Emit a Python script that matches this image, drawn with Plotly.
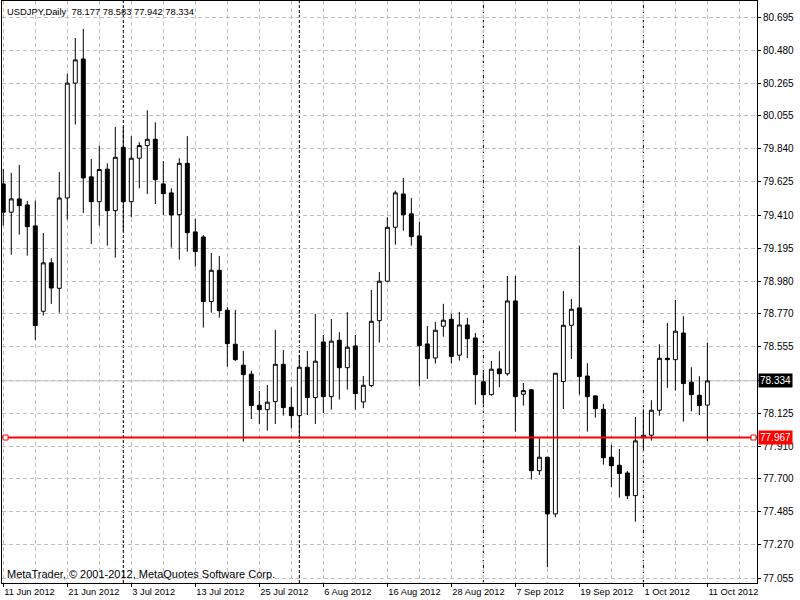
import plotly.graph_objects as go
import pandas as pd

symbol = "USDJPY"
period = "Daily"
dates = pd.bdate_range("2012-06-11", periods=89)
bars = list(range(len(dates)))

opens = [79.612, 79.429, 79.515, 79.476, 79.340, 78.786, 79.100, 78.935, 79.521, 80.266,
         80.423, 79.658, 79.497, 79.708, 79.439, 79.850, 79.497, 79.779, 79.861, 79.902,
         79.612, 79.554, 79.413, 79.746, 79.301, 79.268, 78.849, 79.052, 78.793, 78.572,
         78.436, 78.378, 78.176, 78.148, 78.200, 78.442, 78.163, 78.109, 78.423, 78.226,
         78.587, 78.232, 78.598, 78.420, 78.561, 78.198, 78.304, 78.725, 78.981, 79.331,
         79.547, 79.418, 79.275, 78.574, 78.483, 78.689, 78.734, 78.501, 78.697, 78.613,
         78.328, 78.245, 78.412, 78.381, 78.853, 78.248, 78.276, 77.752, 77.839, 77.471,
         78.330, 78.695, 78.808, 78.366, 78.237, 78.150, 77.839, 77.787, 77.737, 77.590,
         77.966, 77.982, 78.144, 78.481, 78.472, 78.645, 78.326, 78.241, 78.177]
highs = [79.710, 79.684, 79.735, 79.502, 79.504, 79.294, 79.130, 79.690, 80.326, 80.559,
         80.618, 79.774, 79.861, 79.746, 79.982, 79.982, 79.922, 79.883, 80.090, 80.012,
         79.761, 79.584, 79.779, 79.922, 79.385, 79.281, 79.164, 79.145, 78.812, 78.795,
         78.529, 78.401, 78.269, 78.308, 78.665, 78.535, 78.293, 78.503, 78.529, 78.769,
         78.632, 78.736, 78.650, 78.780, 78.632, 78.366, 78.924, 79.041, 79.396, 79.569,
         79.651, 79.521, 79.366, 78.691, 78.717, 78.834, 78.769, 78.782, 78.743, 78.644,
         78.390, 78.464, 78.527, 79.015, 79.015, 78.321, 78.282, 77.962, 77.839, 78.384,
         78.918, 78.866, 79.212, 78.449, 78.240, 78.185, 77.919, 77.893, 77.750, 78.100,
         78.150, 78.209, 78.572, 78.710, 78.860, 78.754, 78.423, 78.365, 78.583]
lows = [79.342, 79.153, 79.283, 79.147, 78.600, 78.758, 78.834, 78.777, 79.381, 79.997,
        79.424, 79.223, 79.342, 79.212, 79.134, 79.303, 79.396, 79.584, 79.547, 79.482,
        79.411, 79.199, 79.121, 79.173, 79.076, 78.680, 78.777, 78.745, 78.427, 78.464,
        77.940, 78.087, 78.055, 78.012, 78.055, 78.109, 78.027, 77.958, 78.113, 78.055,
        78.126, 78.148, 78.213, 78.278, 78.148, 78.157, 78.293, 78.583, 78.978, 79.218,
        79.309, 79.212, 78.300, 78.347, 78.446, 78.621, 78.446, 78.466, 78.483, 78.180,
        78.180, 78.239, 78.293, 78.368, 78.005, 78.174, 77.694, 77.724, 77.125, 77.450,
        78.152, 78.477, 78.245, 78.005, 78.096, 77.791, 77.646, 77.577, 77.568, 77.421,
        77.880, 77.947, 78.109, 78.289, 78.271, 78.070, 78.137, 78.113, 77.942]
closes = [79.429, 79.515, 79.471, 79.335, 78.693, 79.100, 78.937, 79.521, 80.266, 80.417,
          79.651, 79.497, 79.706, 79.439, 79.785, 79.497, 79.779, 79.861, 79.902, 79.640,
          79.549, 79.411, 79.746, 79.296, 79.173, 78.849, 79.052, 78.790, 78.576, 78.472,
          78.375, 78.174, 78.148, 78.196, 78.442, 78.161, 78.109, 78.423, 78.226, 78.462,
          78.232, 78.592, 78.420, 78.553, 78.252, 78.306, 78.721, 78.981, 79.331, 79.554,
          79.413, 79.270, 78.563, 78.479, 78.663, 78.728, 78.492, 78.697, 78.608, 78.375,
          78.245, 78.410, 78.381, 78.853, 78.232, 78.271, 77.752, 77.839, 77.471, 78.384,
          78.695, 78.799, 78.362, 78.232, 78.154, 77.836, 77.784, 77.733, 77.590, 77.945,
          77.982, 78.144, 78.481, 78.472, 78.657, 78.317, 78.245, 78.174, 78.334]

x_tick_bars = [0, 8, 16, 24, 32, 40, 48, 56, 64, 72, 80, 88]
x_tick_labels = ["11 Jun 2012", "21 Jun 2012", "3 Jul 2012", "13 Jul 2012", "25 Jul 2012",
                 "6 Aug 2012", "16 Aug 2012", "28 Aug 2012", "7 Sep 2012", "19 Sep 2012",
                 "1 Oct 2012", "11 Oct 2012"]
y_tick_values = [80.695, 80.480, 80.265, 80.055, 79.840, 79.625, 79.410, 79.195, 78.980,
                 78.770, 78.555, 78.340, 78.125, 77.910, 77.700, 77.485, 77.270, 77.055]
# the 78.340 label is hidden behind the bid-price box in the reference
y_tick_labels = ["80.695", "80.480", "80.265", "80.055", "79.840", "79.625", "79.410",
                 "79.195", "78.980", "78.770", "78.555", "", "78.125", "77.910",
                 "77.700", "77.485", "77.270", "77.055"]
hline_level = 77.967
copyright_text = "MetaTrader, © 2001-2012, MetaQuotes Software Corp."

FONT = "Liberation Sans, Arial, sans-serif"
GRID = "#C0C0C0"

month_starts = [i for i in range(1, len(dates)) if dates[i].month != dates[i - 1].month]
last_close = closes[-1]

fig = go.Figure()
fig.add_trace(go.Candlestick(
    x=bars, open=opens, high=highs, low=lows, close=closes,
    increasing=dict(line=dict(color="black", width=1), fillcolor="white"),
    decreasing=dict(line=dict(color="black", width=1), fillcolor="black"),
    whiskerwidth=0, hoverinfo="skip",
))

shapes = []
for m in month_starts:
    shapes.append(dict(type="line", xref="x", yref="paper", x0=m, x1=m, y0=0, y1=1,
                       line=dict(color="black", width=1, dash="3px,2px"), layer="below"))
shapes.append(dict(type="line", xref="paper", yref="y", x0=0, x1=1, y0=last_close, y1=last_close,
                   line=dict(color=GRID, width=1), layer="below"))
shapes.append(dict(type="line", xref="paper", yref="y", x0=0, x1=1, y0=hline_level, y1=hline_level,
                   line=dict(color="#FF0000", width=2), layer="above"))
for anchor, a0, a1 in [(0, 1, 6), (1, -6, -1)]:
    shapes.append(dict(type="rect", xref="paper", yref="y", xsizemode="pixel", ysizemode="pixel",
                       xanchor=anchor, yanchor=hline_level, x0=a0, x1=a1, y0=-2.5, y1=2.5,
                       fillcolor="white", line=dict(color="#FF0000", width=1), layer="above"))

title_txt = f"{symbol},{period}&nbsp;&nbsp;{opens[-1]:.3f} {highs[-1]:.3f} {lows[-1]:.3f} {closes[-1]:.3f}"
annotations = [
    dict(text=title_txt, xref="paper", yref="paper", x=0, y=1, xanchor="left", yanchor="top",
         xshift=3, yshift=-3, showarrow=False, font=dict(family=FONT, size=9.4, color="black")),
    dict(text=copyright_text, xref="paper", yref="paper", x=0, y=0, xanchor="left", yanchor="bottom",
         xshift=3, yshift=1, showarrow=False, font=dict(family=FONT, size=11, color="black")),
    dict(text=f"{last_close:.3f}", xref="paper", yref="y", x=1, y=last_close, xanchor="left",
         yanchor="middle", xshift=1, showarrow=False, bgcolor="black", borderpad=1,
         font=dict(family=FONT, size=10, color="white")),
    dict(text=f"{hline_level:.3f}", xref="paper", yref="y", x=1, y=hline_level, xanchor="left",
         yanchor="middle", xshift=1, showarrow=False, bgcolor="#FF0000", borderpad=1,
         font=dict(family=FONT, size=10, color="white")),
]

fig.update_layout(
    width=800, height=600,
    margin=dict(l=2, r=43, t=1, b=17),
    paper_bgcolor="white", plot_bgcolor="white",
    showlegend=False,
    font=dict(family=FONT, size=10, color="black"),
    shapes=shapes, annotations=annotations,
    xaxis=dict(
        range=[-0.16, 94.2], tickmode="array", tickvals=x_tick_bars, ticktext=x_tick_labels,
        ticks="outside", ticklen=3, tickcolor="black", ticklabelposition="outside right",
        tickangle=0, tickfont=dict(family=FONT, size=9.3),
        showgrid=True, gridcolor=GRID, griddash="4px,3px", gridwidth=1,
        minor=dict(dtick=4, tick0=0, showgrid=True, gridcolor=GRID, griddash="4px,3px", ticks=""),
        showline=True, mirror=True, linecolor="black", linewidth=1, zeroline=False,
        rangeslider=dict(visible=False), fixedrange=True,
    ),
    yaxis=dict(
        side="right", range=[77.023, 80.799], tickmode="array", tickvals=y_tick_values,
        ticktext=y_tick_labels, ticks="outside", ticklen=3, tickcolor="black",
        tickfont=dict(family=FONT, size=10),
        showgrid=True, gridcolor=GRID, griddash="4px,3px", gridwidth=1,
        showline=True, mirror=True, linecolor="black", linewidth=1, zeroline=False, fixedrange=True,
    ),
)

fig.write_html("out.html", config={"displayModeBar": False},
               post_script="document.body.style.margin='0';document.body.style.padding='0';")
